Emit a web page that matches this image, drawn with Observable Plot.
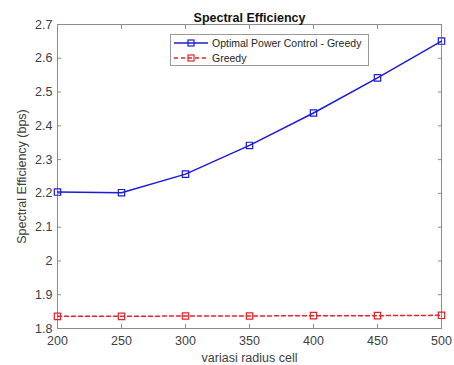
<!DOCTYPE html>
<html><head><meta charset="utf-8">
<script src="https://cdn.jsdelivr.net/npm/d3@7"></script>
<script src="https://cdn.jsdelivr.net/npm/@observablehq/plot@0.6"></script>
<style>
body{margin:0;background:#fff;}
#wrap{position:relative;width:454px;height:365px;font-family:"Liberation Sans",Arial,sans-serif;}
#legend{position:absolute;left:170px;top:34px;width:197px;height:30px;border:1px solid #9a9a9a;background:#fff;font-size:10.5px;color:#262626;white-space:nowrap;overflow:hidden;}
#legend .row{display:flex;align-items:center;height:15px;}
#legend svg{margin-left:2px;margin-right:3px;flex:none;}
</style></head>
<body><div id="wrap"></div>
<script>
const radius = [200, 250, 300, 350, 400, 450, 500];
const optimalGreedy = [2.204, 2.202, 2.257, 2.342, 2.438, 2.542, 2.651];
const greedy = [1.836, 1.836, 1.837, 1.837, 1.838, 1.838, 1.839];
const xTicks = [200, 250, 300, 350, 400, 450, 500];
const yTicks = [1.8, 1.9, 2, 2.1, 2.2, 2.3, 2.4, 2.5, 2.6, 2.7];
const seriesNames = ["Optimal Power Control - Greedy", "Greedy"];
const blue = "#1c1cd6", red = "#e3232b";

const d1 = radius.map((r, i) => ({x: r, y: optimalGreedy[i]}));
const d2 = radius.map((r, i) => ({x: r, y: greedy[i]}));

const chart = Plot.plot({
  width: 454, height: 365,
  marginTop: 24, marginBottom: 37, marginLeft: 57, marginRight: 13,
  style: {fontFamily: "Liberation Sans, Arial, sans-serif", fontSize: "12px", color: "#404040", background: "#fff"},
  x: {domain: [200, 500]},
  y: {domain: [1.8, 2.7]},
  marks: [
    Plot.frame({stroke: "#8c8c8c"}),
    Plot.axisX({anchor: "bottom", ticks: xTicks, tickSize: -4, tickPadding: 12, stroke: "#8c8c8c", fill: "#404040", label: "variasi radius cell", labelAnchor: "center", labelArrow: "none", labelOffset: 33, fontSize: 12.5, tickFormat: d => String(d)}),
    Plot.axisX({anchor: "top", ticks: xTicks, tickSize: -4, tickFormat: () => "", stroke: "#8c8c8c", label: null}),
    Plot.axisY({anchor: "left", ticks: yTicks, tickSize: -4, tickPadding: 9, stroke: "#8c8c8c", fill: "#404040", label: "Spectral Efficiency (bps)", labelAnchor: "center", labelArrow: "none", labelOffset: 40, fontSize: 12.5, tickFormat: d => String(d)}),
    Plot.axisY({anchor: "right", ticks: yTicks, tickSize: -4, tickFormat: () => "", stroke: "#8c8c8c", label: null}),
    Plot.line(d1, {x: "x", y: "y", stroke: blue, strokeWidth: 1.5}),
    Plot.dot(d1, {x: "x", y: "y", symbol: "square", r: 3.6, stroke: blue, strokeWidth: 1.2, fill: "none"}),
    Plot.line(d2, {x: "x", y: "y", stroke: red, strokeWidth: 1.5, strokeDasharray: "4,3"}),
    Plot.dot(d2, {x: "x", y: "y", symbol: "square", r: 3.6, stroke: red, strokeWidth: 1.2, fill: "none"}),
    Plot.text(["Spectral Efficiency"], {frameAnchor: "top", dy: -11, text: d => d, fontWeight: "bold", fontSize: 12.5, fill: "#111"})
  ]
});
const wrap = document.getElementById("wrap");
wrap.appendChild(chart);

const legend = document.createElement("div");
legend.id = "legend";
const samples = [
  {name: seriesNames[0], color: blue, dash: null},
  {name: seriesNames[1], color: red, dash: "4,3"}
];
for (const s of samples) {
  const row = document.createElement("div");
  row.className = "row";
  row.innerHTML = `<svg width="36" height="12"><line x1="1" x2="35" y1="6" y2="6" stroke="${s.color}" stroke-width="1.5" ${s.dash ? `stroke-dasharray="${s.dash}"` : ""}/><rect x="15" y="3" width="6" height="6" fill="none" stroke="${s.color}" stroke-width="1.2"/></svg><span>${s.name}</span>`;
  legend.appendChild(row);
}
wrap.appendChild(legend);
</script></body></html>
